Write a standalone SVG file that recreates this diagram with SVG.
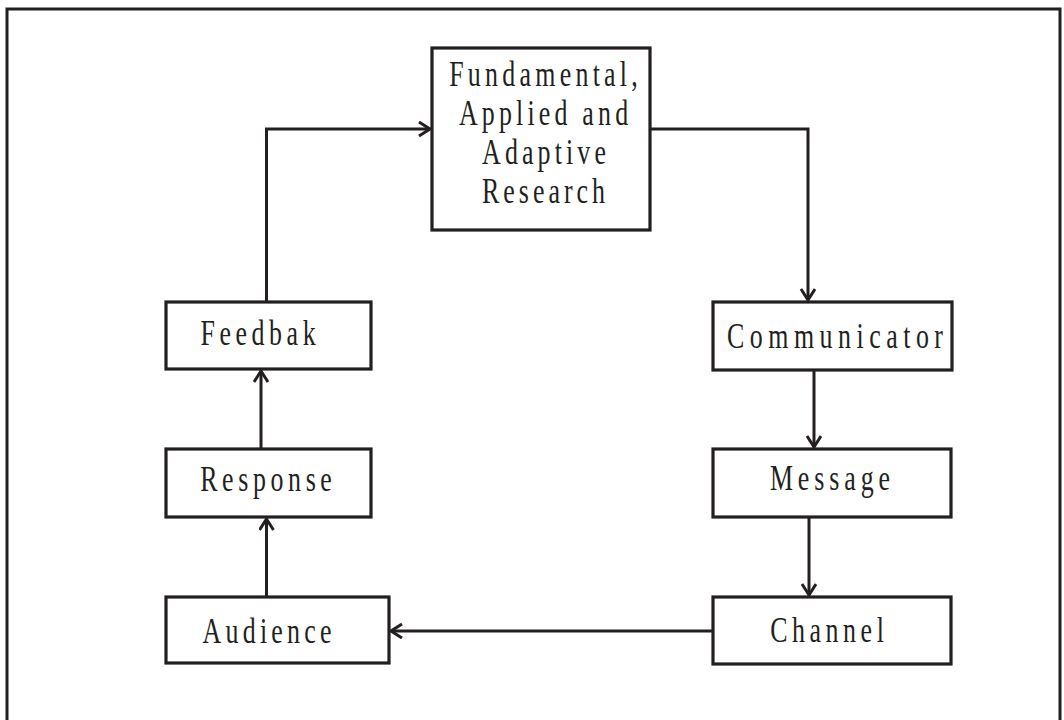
<svg xmlns="http://www.w3.org/2000/svg" width="1064" height="720" viewBox="0 0 1064 720">
<defs>
<style>
.box{fill:#fff;stroke:#231f20;stroke-width:3.2}
.ln{fill:none;stroke:#231f20;stroke-width:3}
.t{font-family:"Liberation Serif","Times New Roman",serif;font-size:36px;fill:#231f20;text-anchor:middle}
</style>
<marker id="ah" markerUnits="userSpaceOnUse" markerWidth="18" markerHeight="18" refX="12" refY="8" orient="auto">
<path d="M1,1 L12,8 L1,15" fill="none" stroke="#231f20" stroke-width="3"/>
</marker>
</defs>
<rect width="1064" height="720" fill="#fff"/>
<path d="M7,730 L7,9 L1060,9 L1060,730" fill="none" stroke="#231f20" stroke-width="3"/>
<g id="connectors">
<path class="ln" d="M266.5,302 L266.5,129 L430,129" marker-end="url(#ah)"/>
<path class="ln" d="M650,129 L808,129 L808,300" marker-end="url(#ah)"/>
<path class="ln" d="M814,370 L814,447" marker-end="url(#ah)"/>
<path class="ln" d="M809,517 L809,595" marker-end="url(#ah)"/>
<path class="ln" d="M713,631 L391,631" marker-end="url(#ah)"/>
<path class="ln" d="M266.5,597 L266.5,519" marker-end="url(#ah)"/>
<path class="ln" d="M261,449 L261,371" marker-end="url(#ah)"/>
</g>
<g id="research">
<rect class="box" x="432" y="48" width="218" height="182"/>
<text class="t" transform="translate(543.5,86) scale(0.72,1)" textLength="262" lengthAdjust="spacing">Fundamental,</text>
<text class="t" transform="translate(543.5,125) scale(0.72,1)" textLength="235" lengthAdjust="spacing">Applied and</text>
<text class="t" transform="translate(544,164) scale(0.72,1)" textLength="172" lengthAdjust="spacing">Adaptive</text>
<text class="t" transform="translate(543.5,203) scale(0.72,1)" textLength="171" lengthAdjust="spacing">Research</text>
</g>
<g id="communicator">
<rect class="box" x="713" y="302" width="239" height="68"/>
<text class="t" transform="translate(835,348) scale(0.72,1)" textLength="300" lengthAdjust="spacing">Communicator</text>
</g>
<g id="message">
<rect class="box" x="713" y="449" width="238" height="68"/>
<text class="t" transform="translate(830,490) scale(0.72,1)" textLength="167" lengthAdjust="spacing">Message</text>
</g>
<g id="channel">
<rect class="box" x="713" y="597" width="238" height="67"/>
<text class="t" transform="translate(827,641.5) scale(0.72,1)" textLength="158" lengthAdjust="spacing">Channel</text>
</g>
<g id="audience">
<rect class="box" x="166" y="597" width="223" height="66"/>
<text class="t" transform="translate(267,642.5) scale(0.72,1)" textLength="179" lengthAdjust="spacing">Audience</text>
</g>
<g id="response">
<rect class="box" x="166" y="449" width="205" height="68"/>
<text class="t" transform="translate(266,490.5) scale(0.72,1)" textLength="183" lengthAdjust="spacing">Response</text>
</g>
<g id="feedbak">
<rect class="box" x="166" y="302" width="205" height="67"/>
<text class="t" transform="translate(258,345) scale(0.72,1)" textLength="160" lengthAdjust="spacing">Feedbak</text>
</g>
</svg>
